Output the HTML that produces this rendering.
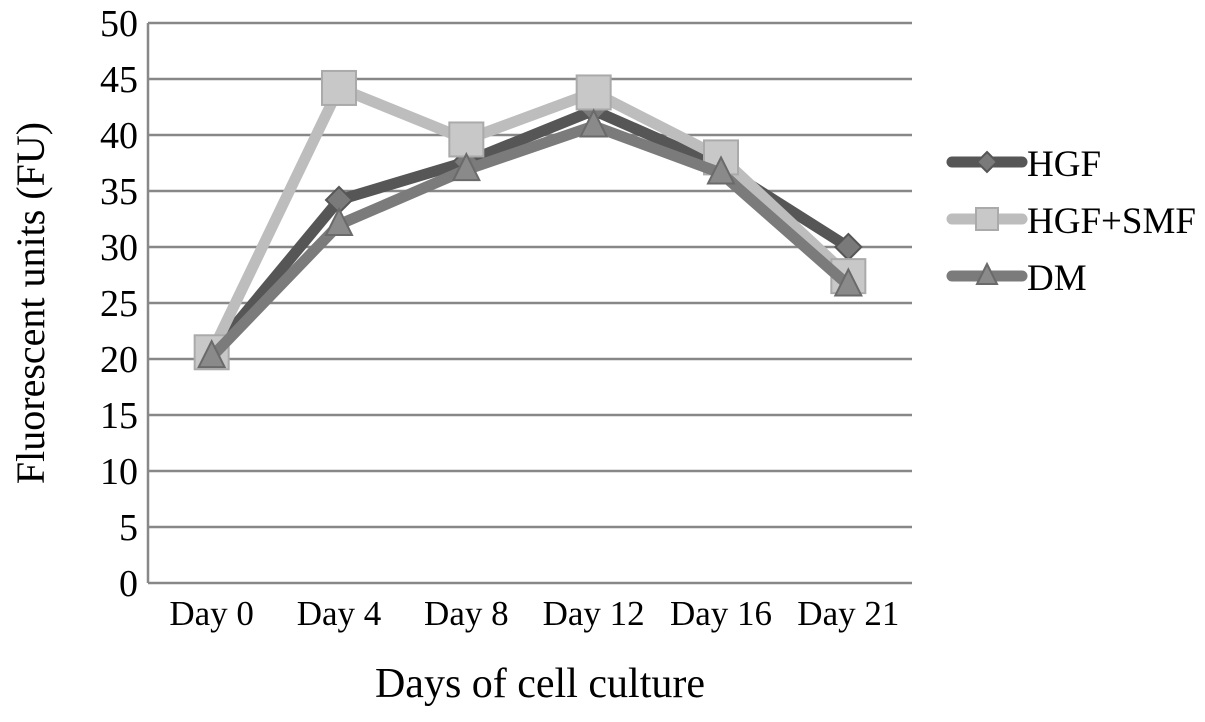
<!DOCTYPE html>
<html><head><meta charset="utf-8"><style>
body{margin:0;background:#fff;}
svg text{font-family:"Liberation Serif",serif;fill:#000;}
</style></head><body>
<svg id="chart" width="1205" height="717" xmlns="http://www.w3.org/2000/svg">
<g id="grid"></g>
<g id="yticks"></g>
<g id="xticks"></g>
<g id="series"></g>
<text transform="translate(44,303) rotate(-90)" text-anchor="middle" font-size="40">Fluorescent units (FU)</text>
<text x="540" y="697" text-anchor="middle" font-size="42">Days of cell culture</text>
<g id="legend"></g>
</svg>
<script>
const categories=["Day 0","Day 4","Day 8","Day 12","Day 16","Day 21"];
const yTicks=[0,5,10,15,20,25,30,35,40,45,50];
const hgf=[20.5,34.2,37.6,42.2,37.2,30.0];
const hgfSmf=[20.6,44.2,39.6,43.8,38.0,27.4];
const dm=[20.2,32.0,36.9,40.8,36.6,26.6];
const seriesNames=["HGF","HGF+SMF","DM"];
const NS="http://www.w3.org/2000/svg";
const X0=148,X1=912,Y0=583,Y1=23;
const xs=i=>X0+(i+0.5)*(X1-X0)/categories.length;
const ys=v=>Y0-(v/50)*(Y0-Y1);
function mk(t,a,p){const e=document.createElementNS(NS,t);for(const k in a)e.setAttribute(k,a[k]);p.appendChild(e);return e;}
const grid=document.getElementById('grid');
yTicks.forEach(v=>{if(v>0){const l=mk('line',{x1:X0,x2:X1,y1:ys(v),y2:ys(v),stroke:'#888','stroke-width':2.5},grid);

}
const t=mk('text',{x:138,y:ys(v)+13,'text-anchor':'end','font-size':38},document.getElementById('yticks'));t.textContent=v;

});
mk('line',{x1:X0,x2:X0,y1:Y1,y2:Y0,stroke:'#888','stroke-width':2.5},grid);
mk('line',{x1:X0,x2:X1,y1:Y0,y2:Y0,stroke:'#888','stroke-width':2.5},grid);
categories.forEach((c,i)=>{const t=mk('text',{x:xs(i),y:625,'text-anchor':'middle','font-size':35},document.getElementById('xticks'));t.textContent=c;

});
const cfg=[{d:hgf,c:'#565656',m:'diamond',f:'#7a7a7a'},{d:hgfSmf,c:'#bdbdbd',m:'square',f:'#c8c8c8'},{d:dm,c:'#7b7b7b',m:'tri',f:'#8a8a8a'}];
function marker(type,x,y,fill,stroke,p,s){
 if(type==='diamond')return mk('polygon',{points:`${x},${y-s} ${x+s},${y} ${x},${y+s} ${x-s},${y}`,fill:fill,stroke:stroke,'stroke-width':2},p);
 if(type==='square')return mk('rect',{x:x-s,y:y-s,width:2*s,height:2*s,fill:fill,stroke:'#aaa','stroke-width':2},p);
 return mk('polygon',{points:`${x},${y-s*1.2} ${x+s},${y+s*0.8} ${x-s},${y+s*0.8}`,fill:fill,stroke:'#6a6a6a','stroke-width':2},p);}
const sg=document.getElementById('series');
cfg.forEach((s,k)=>{const g=mk('g',{},sg);


mk('polyline',{points:s.d.map((v,i)=>xs(i)+','+ys(v)).join(' '),fill:'none',stroke:s.c,'stroke-width':11,'stroke-linejoin':'round'},g);
s.d.forEach((v,i)=>{const m=marker(s.m,xs(i),ys(v),s.f,s.c,g,s.m==='square'?17:13);

});});
const lg=document.getElementById('legend');
cfg.forEach((s,k)=>{const y=162+k*57;const g=mk('g',{},lg);


mk('line',{x1:952,x2:1022,y1:y,y2:y,stroke:s.c,'stroke-width':11,'stroke-linecap':'round'},g);
marker(s.m,987,y,s.f,s.c,g,s.m==='square'?11:10);
const t=mk('text',{x:1027,y:y+14,'font-size':37},g);t.textContent=seriesNames[k];});
</script>
</body></html>
